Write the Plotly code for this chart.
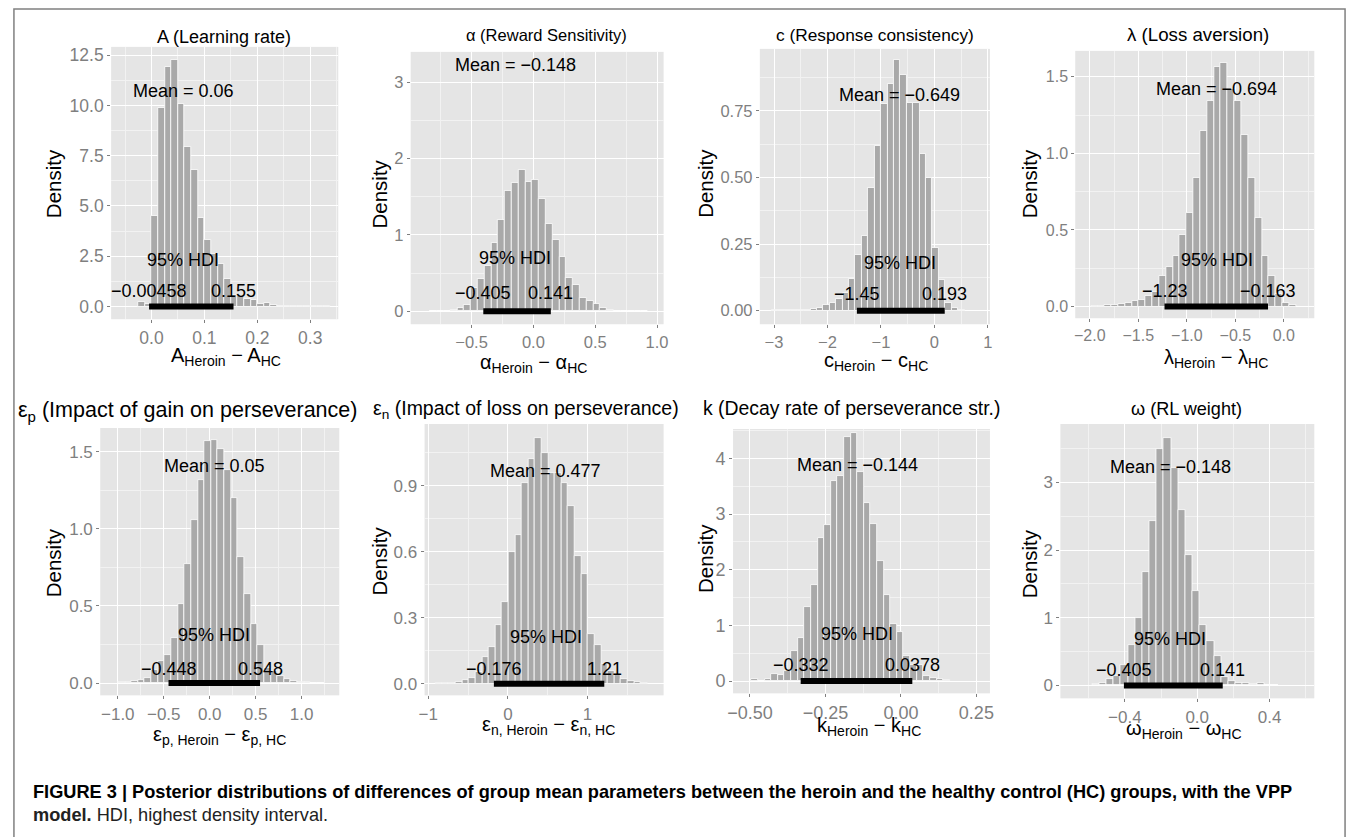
import plotly.graph_objects as go

W, H = 1357, 837

# ---------------- data ----------------
titles = ["A (Learning rate)", "α (Reward Sensitivity)", "c (Response consistency)", "λ (Loss aversion)",
          "ε<sub>p</sub> (Impact of gain on perseverance)", "ε<sub>n</sub> (Impact of loss on perseverance)",
          "k (Decay rate of perseverance str.)", "ω (RL weight)"]
xlabels = ["A<sub>Heroin</sub> − A<sub>HC</sub>", "α<sub>Heroin</sub> − α<sub>HC</sub>",
           "c<sub>Heroin</sub> − c<sub>HC</sub>", "λ<sub>Heroin</sub> − λ<sub>HC</sub>",
           "ε<sub>p, Heroin</sub> − ε<sub>p, HC</sub>", "ε<sub>n, Heroin</sub> − ε<sub>n, HC</sub>",
           "k<sub>Heroin</sub> − k<sub>HC</sub>", "ω<sub>Heroin</sub> − ω<sub>HC</sub>"]

means = [0.06, -0.148, -0.649, -0.694, 0.05, 0.477, -0.144, -0.148]
hdi_lo = [-0.00458, -0.405, -1.45, -1.23, -0.448, -0.176, -0.332, -0.405]
hdi_hi = [0.155, 0.141, 0.193, -0.163, 0.548, 1.21, 0.0378, 0.141]

bin_start = [-0.025, -0.835, -3.04, -1.99, -0.996, -0.905, -0.495, -0.581]
bin_width = [0.0125, 0.055, 0.12, 0.0705, 0.0722, 0.083, 0.0219, 0.0396]

A_density = [0.25, 0.15, 4.5, 9.9, 11.9, 12.25, 10.1, 7.95, 6.8, 4.4, 3.3, 2.6, 2.1, 1.4, 0.6,
             0.55, 0.4, 0.35, 0.15, 0.2, 0.06, 0.05, 0.04, 0.03, 0.02, 0.02, 0.01, 0.01, 0.01]
alpha_density = [0.005, 0.005, 0.01, 0.02, 0.05, 0.08, 0.30, 0.42, 0.59, 0.89, 1.20, 1.58, 1.68, 1.85,
                 1.70, 1.72, 1.47, 1.15, 0.94, 0.71, 0.44, 0.34, 0.18, 0.13, 0.10, 0.05, 0.02, 0.01,
                 0.005, 0.005, 0.003, 0.003]
c_density = [0.001, 0.001, 0.001, 0.002, 0.003, 0.004, 0.005, 0.012, 0.02, 0.03, 0.045, 0.065, 0.12,
             0.21, 0.28, 0.46, 0.62, 0.775, 0.85, 0.94, 0.885, 0.78, 0.78, 0.59, 0.50, 0.235, 0.115,
             0.03, 0.01, 0.003]
lambda_density = [0.005, 0.003, 0.01, 0.01, 0.015, 0.025, 0.04, 0.045, 0.07, 0.095, 0.2, 0.26, 0.33,
                  0.47, 0.61, 0.84, 1.15, 1.34, 1.565, 1.59, 1.42, 1.34, 1.12, 0.84, 0.58, 0.33, 0.2,
                  0.08, 0.025, 0.01]
ep_density = [0.005, 0.006, 0.012, 0.017, 0.03, 0.085, 0.14, 0.18, 0.29, 0.51, 0.77, 1.06, 1.32, 1.57,
              1.575, 1.52, 1.385, 1.2, 0.82, 0.58, 0.38, 0.25, 0.097, 0.075, 0.045, 0.028, 0.013,
              0.006, 0.004, 0.002, 0.003]
en_density = [0.003, 0.003, 0.005, 0.008, 0.015, 0.026, 0.053, 0.12, 0.166, 0.268, 0.374, 0.598, 0.678,
              0.915, 1.024, 1.12, 1.05, 0.96, 0.957, 0.915, 0.81, 0.582, 0.499, 0.227, 0.174, 0.09,
              0.056, 0.038, 0.023, 0.014, 0.008, 0.003]
k_density = [0.03, 0.01, 0.03, 0.12, 0.11, 0.19, 0.55, 0.78, 1.33, 1.73, 2.57, 2.8, 3.6, 3.69, 4.38,
             4.45, 3.76, 3.2, 2.82, 2.16, 1.55, 1.02, 0.88, 0.45, 0.29, 0.29, 0.1, 0.05, 0.04, 0.02]
omega_density = [0.015, 0.035, 0.09, 0.14, 0.3, 0.6, 1.0, 1.68, 2.43, 3.5, 3.66, 3.22, 2.6, 1.93, 1.4,
                 0.9, 0.66, 0.43, 0.12, 0.06, 0.04, 0.035, 0.025, 0.03, 0.01, 0.005]

densities = [A_density, alpha_density, c_density, lambda_density,
             ep_density, en_density, k_density, omega_density]

# ---------------- layout (pixel geometry) ----------------
plot_px = [  # left, right, top, bottom
    (106, 335, 45, 318), (408, 663, 50, 323), (760, 992, 47, 323), (1078, 1319, 49, 317),
    (95, 336, 427, 695), (422, 663, 423, 695), (733, 992, 428, 693), (1063, 1319, 423, 698)]
x_ranges = [(-0.0763, 0.353), (-0.992, 1.053), (-3.265, 1.039), (-2.150, 0.314),
            (-1.191, 1.41), (-1.046, 1.955), (-0.556, 0.295), (-0.756, 0.647)]
y_ranges = [(-0.63, 12.91), (-0.17, 3.40), (-0.051, 0.983), (-0.076, 1.669),
            (-0.080, 1.655), (-0.053, 1.182), (-0.22, 4.53), (-0.19, 3.864)]
x_dtick = [0.1, 0.5, 1, 0.5, 0.5, 1, 0.25, 0.4]
x_fmt = [".1f", ".1f", ".0f", ".1f", ".1f", ".0f", ".2f", ".1f"]
y_dtick = [2.5, 1, 0.25, 0.5, 0.5, 0.3, 1, 1]
y_fmt = [".1f", ".0f", ".2f", ".1f", ".1f", ".1f", ".0f", ".0f"]
tick_size = [17.5, 16.5, 16.5, 16, 17, 17, 18, 17]
title_size = [18, 16.5, 17.3, 18.7, 21.5, 19.5, 19.4, 18.1]
title_pos = [(219.5, 35), (545, 33), (876, 33), (1201.5, 33), (183, 410), (524, 408), (852, 407), (1190, 408)]
dens_pos = [(48, 182), (377, 192), (705, 182), (1032, 182), (48, 562), (377, 560), (705, 558), (1032, 563)]
xlab_pos = [(221.7, 355), (531.7, 362), (876.7, 360), (1220, 357), (215, 735), (546.7, 725), (870, 726), (1188, 729)]
mean_fy = [0.838, 0.953, 0.834, 0.857, 0.857, 0.827, 0.863, 0.845]
hdi_fy = [0.219, 0.243, 0.222, 0.219, 0.224, 0.214, 0.225, 0.217]
lohi_fy = [0.103, 0.115, 0.108, 0.101, 0.0995, 0.096, 0.106, 0.102]

FONT = "Liberation Sans, Arial, Helvetica, sans-serif"
BAR = "#A9A9A9"
BG = "#E5E5E5"
MINOR = "#F2F2F2"
TICKC = "#7F7F7F"


def fmt(v):
    return f"{v:.3g}".replace("-", "−")


def px(x):
    return x / W


def py(y):
    return 1 - y / H


fig = go.Figure()
annotations = []

for i in range(8):
    sfx = "" if i == 0 else str(i + 1)
    xa, ya = "x" + sfx, "y" + sfx
    dens = densities[i]
    centers = [bin_start[i] + bin_width[i] * (j + 0.5) for j in range(len(dens))]
    fig.add_trace(go.Bar(x=centers, y=dens, width=bin_width[i],
                         marker=dict(color=BAR, line=dict(color="white", width=0.8)),
                         xaxis=xa, yaxis=ya, showlegend=False, hoverinfo="skip"))
    fig.add_trace(go.Scatter(x=[hdi_lo[i], hdi_hi[i]], y=[0, 0], mode="lines",
                             line=dict(color="black", width=6),
                             xaxis=xa, yaxis=ya, showlegend=False, hoverinfo="skip"))

    l, r, t, b = plot_px[i]
    common = dict(ticks="outside", ticklen=3, tickwidth=1, tickcolor=TICKC,
                  tickfont=dict(family=FONT, size=tick_size[i], color=TICKC),
                  showgrid=True, gridcolor="white", gridwidth=1.2,
                  zeroline=False, showline=False, tickmode="linear", tick0=0)
    fig.update_layout(**{
        "xaxis" + sfx: dict(domain=[px(l), px(r)], range=list(x_ranges[i]), anchor=ya,
                            dtick=x_dtick[i], tickformat=x_fmt[i],
                            minor=dict(tick0=0, dtick=x_dtick[i] / 2, showgrid=True,
                                       gridcolor=MINOR, gridwidth=0.7),
                            **common),
        "yaxis" + sfx: dict(domain=[py(b), py(t)], range=list(y_ranges[i]), anchor=xa,
                            dtick=y_dtick[i], tickformat=y_fmt[i],
                            minor=dict(tick0=0, dtick=y_dtick[i] / 2, showgrid=True,
                                       gridcolor=MINOR, gridwidth=0.7),
                            **common),
    })

    ann_font = dict(family=FONT, size=18, color="black")
    annotations += [
        dict(x=means[i], y=mean_fy[i], xref=xa, yref=ya + " domain", text="Mean = " + fmt(means[i]),
             showarrow=False, font=ann_font, xanchor="center", yanchor="middle"),
        dict(x=means[i], y=hdi_fy[i], xref=xa, yref=ya + " domain", text="95% HDI",
             showarrow=False, font=ann_font, xanchor="center", yanchor="middle"),
        dict(x=hdi_lo[i], y=lohi_fy[i], xref=xa, yref=ya + " domain", text=fmt(hdi_lo[i]),
             showarrow=False, font=ann_font, xanchor="center", yanchor="middle"),
        dict(x=hdi_hi[i], y=lohi_fy[i], xref=xa, yref=ya + " domain", text=fmt(hdi_hi[i]),
             showarrow=False, font=ann_font, xanchor="center", yanchor="middle"),
        dict(x=px(title_pos[i][0]), y=py(title_pos[i][1]), xref="paper", yref="paper",
             text=titles[i], showarrow=False, font=dict(family=FONT, size=title_size[i], color="black"),
             xanchor="center", yanchor="middle"),
        dict(x=px(dens_pos[i][0]), y=py(dens_pos[i][1]), xref="paper", yref="paper",
             text="Density", textangle=-90, showarrow=False,
             font=dict(family=FONT, size=20.5, color="black"), xanchor="center", yanchor="middle"),
        dict(x=px(xlab_pos[i][0]), y=py(xlab_pos[i][1]), xref="paper", yref="paper",
             text=xlabels[i], showarrow=False, font=dict(family=FONT, size=20, color="black"),
             xanchor="center", yanchor="middle"),
    ]

annotations += [
    dict(x=px(25), y=py(792), xref="paper", yref="paper", xanchor="left", yanchor="middle",
         showarrow=False, font=dict(family=FONT, size=18.2, color="black"),
         text="<b>FIGURE 3 | Posterior distributions of differences of group mean parameters between the "
              "heroin and the healthy control (HC) groups, with the VPP</b>"),
    dict(x=px(25), y=py(815), xref="paper", yref="paper", xanchor="left", yanchor="middle",
         showarrow=False, font=dict(family=FONT, size=18.2, color="#222222"),
         text="<b>model.</b> HDI, highest density interval."),
]

fig.update_layout(
    width=W, height=H, margin=dict(l=0, r=0, t=0, b=0),
    paper_bgcolor="white", plot_bgcolor=BG, bargap=0,
    annotations=annotations,
    shapes=[dict(type="rect", xref="paper", yref="paper", x0=px(8), x1=px(1350), y0=-0.05, y1=py(7),
                 line=dict(color="#808080", width=1.5), fillcolor="rgba(0,0,0,0)", layer="below")],
)

fig.write_html("out.html", config={"displayModeBar": False},
               post_script="document.body.style.margin='0';document.body.style.overflow='hidden';")
